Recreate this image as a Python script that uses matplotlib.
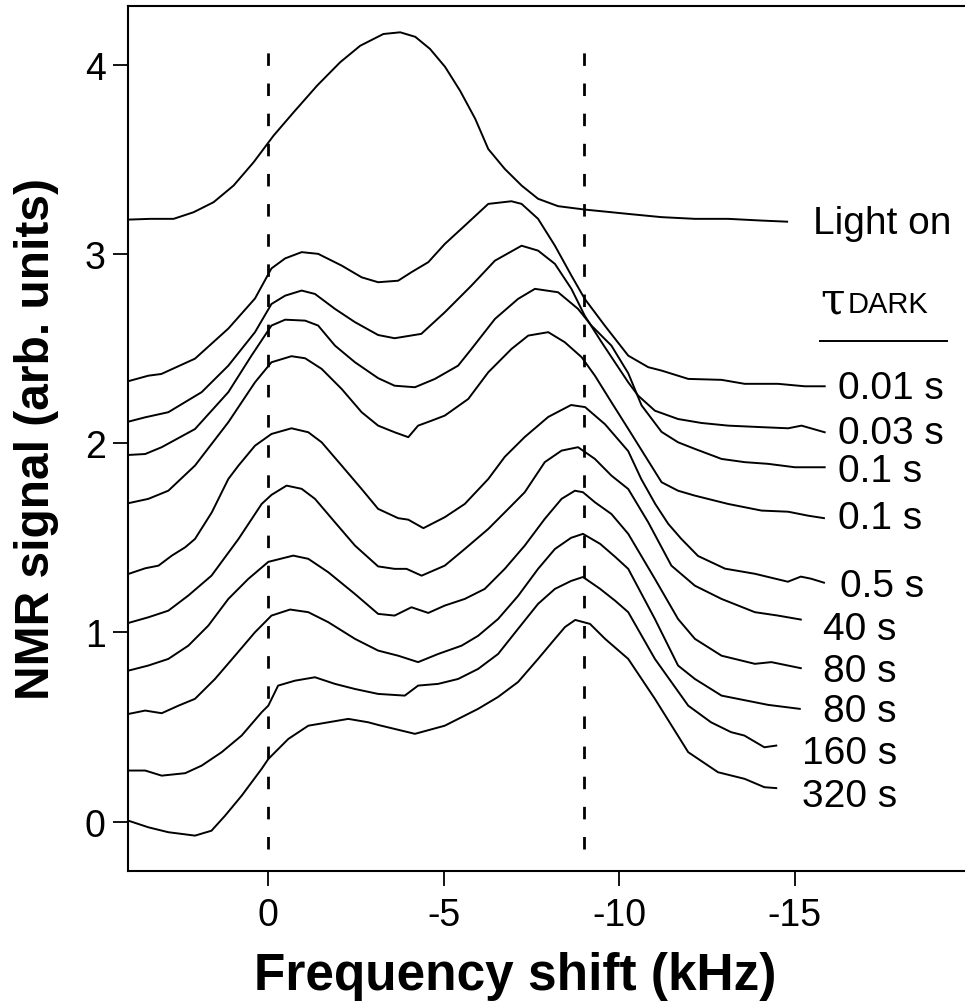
import matplotlib
matplotlib.use("Agg")
import matplotlib.pyplot as plt

plt.rcParams['font.family'] = ['Liberation Sans', 'DejaVu Sans']
plt.rcParams['lines.scale_dashes'] = False

# ---------------- data ----------------
light_x = [3.99, 3.36, 2.70, 2.13, 1.56, 0.99, 0.42, -0.15, -0.72, -1.39, -2.05, -2.62, -3.28, -3.76,
           -4.19, -4.61, -5.04, -5.47, -5.90, -6.27, -6.74, -7.22, -7.69, -8.26, -9.02, -9.78, -10.26,
           -11.21, -12.16, -13.11, -14.05, -14.79]
light_y = [3.182, 3.186, 3.186, 3.221, 3.274, 3.362, 3.485, 3.626, 3.749, 3.890, 4.014, 4.101, 4.163, 4.172,
           4.148, 4.084, 3.989, 3.862, 3.714, 3.555, 3.450, 3.362, 3.292, 3.253, 3.235, 3.221, 3.212,
           3.195, 3.186, 3.186, 3.177, 3.171]

t001_x = [3.99, 3.42, 3.05, 2.09, 1.14, 0.38, -0.09, -0.48, -0.95, -1.42, -2.09, -2.66, -3.13, -3.70,
          -4.08, -4.56, -5.03, -5.60, -6.27, -6.93, -7.22, -7.69, -8.17, -8.64, -9.02, -9.59, -10.26,
          -10.83, -11.21, -11.97, -12.92, -13.58, -14.53, -15.29, -15.86]
t001_y = [2.328, 2.357, 2.366, 2.447, 2.606, 2.765, 2.924, 2.977, 3.010, 3.001, 2.939, 2.877, 2.851, 2.859,
          2.904, 2.957, 3.053, 3.150, 3.265, 3.279, 3.265, 3.186, 3.044, 2.886, 2.763, 2.622, 2.463,
          2.402, 2.384, 2.340, 2.335, 2.314, 2.314, 2.301, 2.301]

t003_x = [3.99, 3.51, 2.85, 1.90, 1.14, 0.38, -0.09, -0.48, -0.95, -1.33, -1.90, -2.47, -3.13, -3.60,
          -4.36, -5.03, -5.79, -6.46, -7.22, -7.69, -8.17, -8.64, -9.02, -9.50, -10.26, -10.54, -11.02,
          -11.68, -12.35, -13.11, -14.06, -14.82, -15.20, -15.86]
t003_y = [2.114, 2.137, 2.164, 2.270, 2.410, 2.587, 2.736, 2.780, 2.807, 2.789, 2.710, 2.640, 2.572, 2.555,
          2.578, 2.692, 2.833, 2.965, 3.044, 3.018, 2.948, 2.816, 2.674, 2.534, 2.322, 2.252, 2.172,
          2.128, 2.107, 2.093, 2.085, 2.079, 2.093, 2.058]

t01a_x = [3.99, 3.51, 3.04, 2.09, 1.14, 0.48, -0.09, -0.48, -1.05, -1.42, -1.90, -2.47, -3.13, -3.60,
          -4.18, -4.75, -5.41, -5.79, -6.46, -7.12, -7.60, -8.26, -8.83, -9.21, -9.78, -10.26, -10.64,
          -11.21, -11.68, -12.16, -12.92, -13.58, -14.25, -15.01, -15.86]
t01a_y = [1.938, 1.943, 1.979, 2.075, 2.270, 2.463, 2.622, 2.653, 2.648, 2.622, 2.516, 2.428, 2.344, 2.304,
          2.296, 2.340, 2.410, 2.498, 2.657, 2.763, 2.816, 2.798, 2.710, 2.622, 2.516, 2.370, 2.200,
          2.060, 2.005, 1.970, 1.917, 1.900, 1.891, 1.873, 1.873]

t01b_x = [3.99, 3.42, 2.85, 2.09, 1.14, 0.38, -0.09, -0.66, -1.05, -1.52, -2.09, -2.66, -3.13, -3.60,
          -3.99, -4.27, -4.65, -5.03, -5.70, -6.27, -6.93, -7.41, -7.98, -8.45, -8.93, -9.31, -9.78,
          -10.26, -11.21, -11.68, -12.16, -13.11, -14.06, -14.82, -15.39, -15.84]
t01b_y = [1.683, 1.706, 1.749, 1.882, 2.111, 2.322, 2.428, 2.460, 2.449, 2.393, 2.287, 2.164, 2.093, 2.058,
          2.032, 2.093, 2.119, 2.146, 2.234, 2.375, 2.498, 2.569, 2.587, 2.534, 2.455, 2.357, 2.217,
          2.076, 1.794, 1.749, 1.723, 1.679, 1.644, 1.638, 1.617, 1.604]

t05_x = [3.99, 3.51, 3.13, 2.75, 2.37, 2.09, 1.61, 1.14, 0.85, 0.38, -0.09, -0.66, -1.14, -1.52, -2.09,
         -2.66, -3.13, -3.70, -3.99, -4.42, -5.03, -5.60, -6.27, -6.74, -7.31, -7.98, -8.63, -9.03,
         -9.60, -10.26, -10.63, -11.03, -11.40, -11.77, -12.25, -13.02, -13.87, -14.81, -15.18, -15.47, -15.84]
t05_y = [1.309, 1.339, 1.353, 1.406, 1.450, 1.494, 1.635, 1.811, 1.882, 1.987, 2.049, 2.079, 2.058, 2.005,
         1.882, 1.758, 1.653, 1.604, 1.596, 1.551, 1.609, 1.679, 1.811, 1.928, 2.033, 2.139, 2.202, 2.191,
         2.100, 1.958, 1.811, 1.679, 1.574, 1.495, 1.404, 1.337, 1.310, 1.268, 1.295, 1.284, 1.263]

t40_x = [3.99, 3.42, 2.85, 2.28, 1.62, 0.85, 0.19, -0.09, -0.52, -0.95, -1.33, -1.90, -2.47, -3.13, -3.60,
         -3.94, -4.37, -5.03, -5.60, -6.27, -6.84, -7.31, -7.88, -8.36, -8.83, -9.31, -9.78, -10.26,
         -10.83, -11.49, -12.16, -12.92, -13.87, -14.53, -15.18]
t40_y = [1.050, 1.080, 1.115, 1.195, 1.300, 1.494, 1.679, 1.727, 1.776, 1.759, 1.706, 1.582, 1.459, 1.349,
         1.336, 1.336, 1.300, 1.353, 1.441, 1.547, 1.653, 1.741, 1.900, 1.961, 1.979, 1.917, 1.829, 1.758,
         1.582, 1.353, 1.247, 1.177, 1.107, 1.089, 1.068]

t80a_x = [3.99, 3.42, 2.85, 2.28, 1.71, 1.14, 0.57, 0.00, -0.71, -1.14, -1.71, -2.47, -3.13, -3.60, -4.08,
          -4.56, -5.03, -5.60, -6.17, -6.74, -7.31, -7.88, -8.36, -8.74, -8.97, -9.31, -9.78, -10.26,
          -11.02, -11.68, -12.16, -12.92, -13.87, -14.34, -15.18]
t80a_y = [0.798, 0.825, 0.860, 0.930, 1.036, 1.177, 1.283, 1.373, 1.406, 1.389, 1.318, 1.203, 1.098, 1.089,
          1.133, 1.103, 1.142, 1.177, 1.230, 1.336, 1.459, 1.600, 1.706, 1.749, 1.741, 1.688, 1.626, 1.521,
          1.283, 1.071, 0.966, 0.877, 0.834, 0.843, 0.811]

t80b_x = [3.99, 3.51, 3.04, 2.56, 2.09, 1.52, 0.95, 0.38, -0.09, -0.62, -1.14, -1.71, -2.47, -3.13, -3.70,
          -4.27, -4.84, -5.51, -5.98, -6.55, -7.12, -7.69, -8.17, -8.63, -8.97, -9.46, -9.89, -10.26,
          -11.02, -11.68, -12.16, -12.92, -13.87, -14.25, -15.15]
t80b_y = [0.569, 0.587, 0.573, 0.613, 0.649, 0.754, 0.877, 1.001, 1.089, 1.121, 1.107, 1.054, 0.966, 0.904,
          0.877, 0.843, 0.886, 0.930, 0.982, 1.071, 1.193, 1.336, 1.441, 1.500, 1.521, 1.468, 1.399, 1.336,
          1.071, 0.825, 0.754, 0.666, 0.631, 0.617, 0.596]

t160_x = [3.99, 3.51, 3.04, 2.37, 1.90, 1.33, 0.76, 0.19, 0.00, -0.28, -0.76, -1.33, -1.90, -2.47, -3.13,
          -3.89, -4.27, -4.84, -5.41, -5.98, -6.55, -7.12, -7.69, -8.17, -8.63, -8.97, -9.46, -9.89,
          -10.26, -11.02, -11.97, -12.62, -13.19, -13.57, -14.14, -14.48]
t160_y = [0.270, 0.270, 0.243, 0.256, 0.296, 0.367, 0.455, 0.578, 0.613, 0.719, 0.745, 0.763, 0.728, 0.701,
          0.675, 0.666, 0.719, 0.728, 0.754, 0.807, 0.886, 1.019, 1.151, 1.230, 1.272, 1.293, 1.230, 1.167,
          1.107, 0.860, 0.613, 0.525, 0.473, 0.455, 0.393, 0.402]

t320_x = [3.99, 3.42, 2.85, 2.09, 1.62, 1.23, 0.76, 0.19, 0.00, -0.57, -1.14, -1.71, -2.28, -2.85, -3.13,
          -4.18, -5.03, -5.98, -6.55, -7.12, -7.69, -8.17, -8.46, -8.75, -9.17, -9.60, -10.26, -11.02,
          -11.97, -12.82, -13.58, -14.14, -14.48]
t320_y = [0.005, -0.030, -0.056, -0.074, -0.048, 0.032, 0.137, 0.279, 0.331, 0.437, 0.507, 0.525, 0.543,
          0.525, 0.511, 0.464, 0.507, 0.596, 0.659, 0.738, 0.860, 0.966, 1.029, 1.066, 1.045, 0.966, 0.860,
          0.649, 0.367, 0.261, 0.226, 0.182, 0.177]

series_x = [light_x, t001_x, t003_x, t01a_x, t01b_x, t05_x, t40_x, t80a_x, t80b_x, t160_x, t320_x]
series_y = [light_y, t001_y, t003_y, t01a_y, t01b_y, t05_y, t40_y, t80a_y, t80b_y, t160_y, t320_y]
series_labels = ["Light on", "0.01 s", "0.03 s", "0.1 s", "0.1 s", "0.5 s",
                 "40 s", "80 s", "80 s", "160 s", "320 s"]
# left edge / vertical centre of each label, in data units
label_x = [-15.53, -16.24, -16.24, -16.24, -16.24, -16.30, -15.81, -15.81, -15.81, -15.21, -15.21]
label_y = [3.165, 2.290, 2.055, 1.854, 1.606, 1.247, 1.019, 0.797, 0.586, 0.364, 0.136]

ref_lines = [0, -9]
x_ticks = [0, -5, -10, -15]
y_ticks = [0, 1, 2, 3, 4]

# ---------------- figure ----------------
fig = plt.figure(figsize=(9.65, 10.03), dpi=100)
ax = fig.add_axes([128 / 965, 1 - 872 / 1003, 1 - 128 / 965, (872 - 7) / 1003])

for xs, ys in zip(series_x, series_y):
    ax.plot(xs, ys, color='black', lw=1.4, solid_joinstyle='round')

for xr in ref_lines:
    ax.plot([xr, xr], [-0.145, 4.09], color='black', lw=2.0, linestyle=(0, (9, 12.7)))

for lx, ly, lab in zip(label_x, label_y, series_labels):
    ax.text(lx, ly, lab, fontsize=28, ha='left', va='center', clip_on=False)

# tau DARK header with underline
ax.text(-15.73, 2.694, "\u03c4", fontsize=32, ha='left', va='baseline', family='DejaVu Serif')
ax.text(-16.50, 2.694, "DARK", fontsize=21, ha='left', va='baseline')
ax.plot([-15.73, -19.34], [2.54, 2.54], color='black', lw=1.4, clip_on=False)

ax.set_xlim(4.0, -19.86)
ax.set_ylim(-0.261, 4.311)
ax.set_xticks(x_ticks)
ax.set_xticklabels([str(t) for t in x_ticks])
ax.set_yticks(y_ticks)

for s in ['left', 'bottom', 'top']:
    ax.spines[s].set_linewidth(1.5)
ax.spines['right'].set_visible(False)

ax.tick_params(axis='both', direction='out', length=11, width=1.3, labelsize=27)
ax.tick_params(axis='x', pad=8)
ax.tick_params(axis='y', pad=5)

ax.set_xlabel("Frequency shift (kHz)", fontsize=37, fontweight='bold')
ax.set_ylabel("NMR signal (arb. units)", fontsize=34.5, fontweight='bold')
ax.xaxis.set_label_coords(0.462, -0.093)
ax.yaxis.set_label_coords(-0.082, 0.5)

fig.savefig("out.png", dpi=100)
